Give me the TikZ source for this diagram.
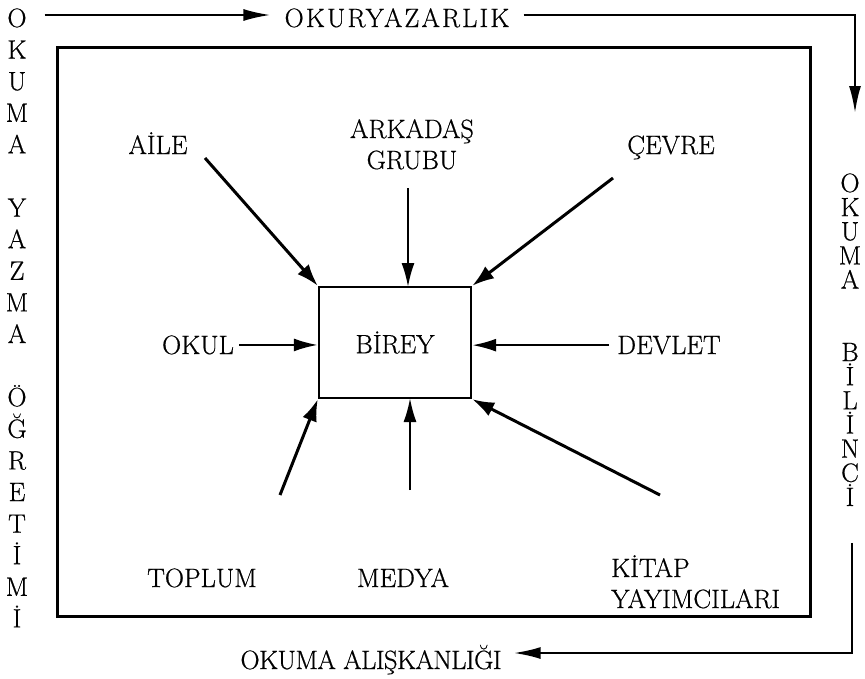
\documentclass[tikz,border=0pt]{standalone}
\usepackage{fontspec}
\setmainfont{Latin Modern Roman}
\usetikzlibrary{arrows.meta}
\begin{document}
\begin{tikzpicture}[x=1pt,y=-1pt,
  lbl/.style={font=\fontsize{26.5}{31}\selectfont\addfontfeature{FakeBold=0.6}, inner sep=0pt},
  arr/.style={line width=3pt, -{Latex[length=22pt,width=15pt]}},
  arrv/.style={line width=2.2pt, -{Latex[length=24pt,width=13pt]}},
  loopline/.style={line width=2.2pt, -{Latex[length=27pt,width=12pt]}},
  framebox/.style={draw, line width=3pt, inner sep=0pt}]
\useasboundingbox (0,0) rectangle (865,678);

% outer frame
\node[framebox, minimum width=753pt, minimum height=569pt] (frame) at (433.5,331.5) {};

% vertical texts
\foreach \c/\k in {O/0,K/1,U/2,M/3,A/4,Y/6,A/7,Z/8,M/9,A/10,Ö/12,Ğ/13,R/14,E/15,T/16,İ/17,M/18,İ/19}
  \node[lbl, anchor=base] (L\k) at (17, {27+\k*31.6}) {\c};
\foreach \c/\k in {O/0,K/1,U/2,M/3,A/4,B/7,İ/8,L/9,İ/10,N/11,C/12,İ/13}
  \node[lbl, anchor=base] (R\k) at (850, {192+\k*24.15}) {\c};

% top and bottom labels
\node[lbl, anchor=base] (okur) at (397,27) {\addfontfeature{LetterSpace=8}OKURYAZARLIK};
\node[lbl, anchor=base] (alis) at (371,669) {\addfontfeature{LetterSpace=-2}OKUMA ALIŞKANLIĞI};

% centre
\node[lbl, draw, line width=2.4pt, minimum width=152pt, minimum height=111pt] (birey) at (395,342.5) {BİREY};

% surrounding labels
\node[lbl, anchor=base] (aile) at (158,154) {AİLE};
\node[lbl, anchor=base, align=center] (ark) at (412,169) {ARKADAŞ\\GRUBU};
\node[lbl, anchor=base] (cevre) at (671,154) {ÇEVRE};
\node[lbl, anchor=base] (okul) at (198,354) {OKUL};
\node[lbl, anchor=base] (devlet) at (669,354) {DEVLET};
\node[lbl, anchor=base] (toplum) at (202,587) {TOPLUM};
\node[lbl, anchor=base] (medya) at (403,587) {MEDYA};
\node[lbl, anchor=base west, align=left] (kitap) at (611,608) {KİTAP\\YAYIMCILARI};

% loop arrows
\draw[loopline] ([xshift=18pt,yshift=12pt]L0.base east) -- ([xshift=-14pt,yshift=12pt]okur.base west);
\draw[loopline] ([xshift=14pt,yshift=12pt]okur.base east) -| ([xshift=5pt,yshift=79pt]R0.base);
\draw[loopline] ([xshift=2pt,yshift=-37pt]R13.base) |- ([xshift=12pt,yshift=16pt]alis.base east);

% arrows into BIREY
\draw[arr] (205,158) -- (birey.north west);
\draw[arrv] (408,188) -- (408,287);
\draw[arr] (613,178) -- (birey.north east);
\draw[arrv] ([xshift=5pt]okul.east) -- (birey.west |- okul.east);
\draw[arrv] ([xshift=-8pt]devlet.west) -- (birey.east |- devlet.west);
\draw[arr] (280,495) -- (birey.south west);
\draw[arrv] (410,490) -- (410,398);
\draw[arr] (660,495) -- (birey.south east);
\end{tikzpicture}
\end{document}
